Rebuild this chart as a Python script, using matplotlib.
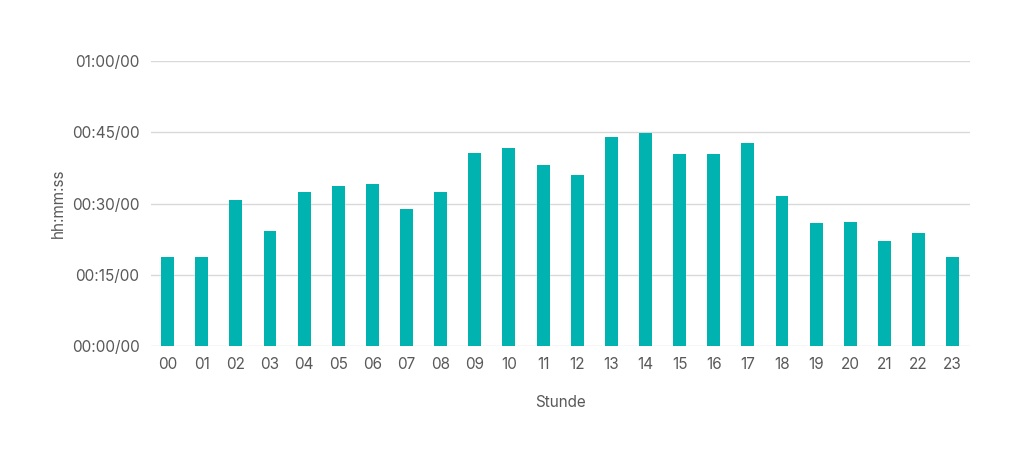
import matplotlib
matplotlib.use("Agg")
import matplotlib.pyplot as plt

hours = [f"{h:02d}" for h in range(24)]
# seconds per hour slot
values = [18.7, 18.7, 30.7, 24.2, 32.4, 33.7, 34.1, 28.8, 32.4, 40.6, 41.7, 38.1,
          36.0, 44.0, 44.8, 40.4, 40.4, 42.7, 31.6, 25.9, 26.1, 22.1, 23.8, 18.7]
yticks = [0, 15, 30, 45, 60]
ytick_labels = ["00:00/00", "00:15/00", "00:30/00", "00:45/00", "01:00/00"]

plt.rcParams["font.family"] = ["Inter", "DejaVu Sans"]
fig = plt.figure(figsize=(10.24, 4.68), dpi=100)
ax = fig.add_axes([0.147, 0.26, 0.8, 0.61])

ax.bar(range(len(hours)), values, width=0.38, color="#00b2b0", zorder=3)
ax.set_xlim(-0.5, 23.5)
ax.set_ylim(0, 60)
ax.set_yticks(yticks)
ax.set_yticklabels(ytick_labels)
ax.set_xticks(range(len(hours)))
ax.set_xticklabels(hours)
ax.grid(axis="y", color="#d9d9d9", linewidth=1, zorder=0)
for s in ax.spines.values():
    s.set_visible(False)
ax.tick_params(length=0, colors="#595959", labelsize=11, pad=8)
ax.set_xlabel("Stunde", color="#595959", fontsize=11, labelpad=16)
ax.set_ylabel("hh:mm:ss", color="#595959", fontsize=11, labelpad=4)

fig.savefig("out.png", dpi=100)
